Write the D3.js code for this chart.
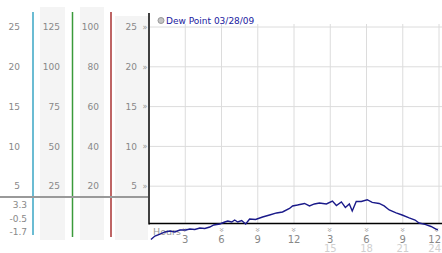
<!DOCTYPE html>
<html>
<head>
<meta charset="utf-8">
<script src="https://cdn.jsdelivr.net/npm/d3@7"></script>
<style>
body { margin: 0; background: #fff; }
svg text { font-family: "DejaVu Sans", Verdana, sans-serif; }
</style>
</head>
<body>
<script>
// dew point readings, hour of day -> degrees C
var hours = [0.16, 0.49, 0.91, 1.32, 1.73, 2.14, 2.56, 3.05, 3.38, 3.79, 4.21, 4.62, 5.03, 5.36, 5.86,
    6.27, 6.52, 6.85, 7.09, 7.34, 7.67, 8.0, 8.33, 8.82, 9.4, 9.98, 10.56, 11.05, 11.63, 11.88,
    12.29, 12.87, 13.28, 13.69, 14.1, 14.68, 15.18, 15.51, 15.92, 16.25, 16.58, 16.82, 17.15, 17.57,
    18.06, 18.47, 19.05, 19.46, 19.88, 20.45, 20.95, 21.53, 22.02, 22.35, 22.85, 23.34, 23.75, 23.9];
var dewPoint = [-1.7, -1.26, -1.01, -0.75, -0.63, -0.75, -0.5, -0.5, -0.38, -0.44, -0.25, -0.31, -0.13, 0.13, 0.25,
    0.5, 0.63, 0.5, 0.75, 0.5, 0.69, 0.25, 0.88, 0.82, 1.13, 1.38, 1.64, 1.76, 2.2, 2.52,
    2.64, 2.83, 2.52, 2.77, 2.89, 2.77, 3.14, 2.58, 3.02, 2.33, 2.77, 1.89, 3.08, 3.08,
    3.3, 2.96, 2.83, 2.52, 2.01, 1.64, 1.38, 1.01, 0.75, 0.38, 0.21, -0.06, -0.38, -0.5];

var gridValues = [25, 20, 15, 10, 5];
var col1Labels = ["25", "20", "15", "10", "5"];
var col2Labels = ["125", "100", "75", "50", "25"];
var col3Labels = ["100", "80", "60", "40", "20"];
var col4Labels = ["25", "20", "15", "10", "5"];
var statValues = [3.3, -0.5, -1.7];
var hourTicks = [3, 6, 9, 12, 15, 18, 21, 24];
var hourLabels = ["3", "6", "9", "12", "3", "6", "9", "12"];
var hourLabels2 = ["", "", "", "", "15", "18", "21", "24"];
var legendText = "Dew Point 03/28/09";

var width = 442, height = 253;
var svg = d3.select("body").append("svg")
    .attr("width", width)
    .attr("height", height);

var x = d3.scaleLinear().domain([0, 24]).range([149, 439]);
var y = d3.scaleLinear().domain([0, 25]).range([226, 27]);

// left panel: shaded columns
var shades = [[40, 65, 7], [80, 104, 7], [115, 148, 16]];
shades.forEach(function (s) {
    svg.append("rect")
        .attr("x", s[0]).attr("y", s[2])
        .attr("width", s[1] - s[0]).attr("height", 240 - s[2])
        .attr("fill", "#f4f4f4");
});

// coloured scale separators
[[33, "#3aa6c4", 235], [72.5, "#3a9a3a", 237], [111, "#a83232", 237]].forEach(function (l) {
    svg.append("line")
        .attr("x1", l[0]).attr("x2", l[0])
        .attr("y1", 12).attr("y2", l[2])
        .attr("stroke", l[1]).attr("stroke-width", 1.5);
});

function columnLabels(labels, xEnd) {
    svg.append("g").selectAll("text")
        .data(labels)
        .join("text")
        .attr("x", xEnd)
        .attr("y", (d, i) => y(gridValues[i]))
        .attr("dy", "0.35em")
        .attr("text-anchor", "end")
        .attr("font-size", 9)
        .attr("fill", "#888")
        .text(d => d);
}
columnLabels(col1Labels, 20);
columnLabels(col2Labels, 60);
columnLabels(col3Labels, 99);
columnLabels(col4Labels, 137);

// divider line in the left panel
svg.append("line")
    .attr("x1", 0).attr("x2", 148)
    .attr("y1", 197).attr("y2", 197)
    .attr("stroke", "#999").attr("stroke-width", 2);

// max / last / min readouts
svg.append("g").selectAll("text")
    .data(statValues)
    .join("text")
    .attr("x", 27)
    .attr("y", (d, i) => 205 + i * 13.5)
    .attr("dy", "0.35em")
    .attr("text-anchor", "end")
    .attr("font-size", 9)
    .attr("fill", "#888")
    .text(d => d);

// grid
var grid = svg.append("g").attr("stroke", "#dcdcdc").attr("stroke-width", 1);
grid.selectAll(".h")
    .data(gridValues)
    .join("line")
    .attr("x1", 150).attr("x2", width)
    .attr("y1", d => y(d)).attr("y2", d => y(d));
grid.selectAll(".v")
    .data(hourTicks)
    .join("line")
    .attr("x1", d => x(d)).attr("x2", d => x(d))
    .attr("y1", 24).attr("y2", 223);

// y tick markers
svg.append("g").selectAll("text")
    .data(gridValues)
    .join("text")
    .attr("x", 145)
    .attr("y", d => y(d))
    .attr("dy", "0.35em")
    .attr("text-anchor", "middle")
    .attr("font-size", 8)
    .attr("fill", "#999")
    .text("»");

// axes
var axisValue = 0.3;
svg.append("line")
    .attr("x1", 149).attr("x2", 149)
    .attr("y1", 13).attr("y2", y(axisValue) + 1)
    .attr("stroke", "#000").attr("stroke-width", 1.5);
svg.append("line")
    .attr("x1", 149).attr("x2", width)
    .attr("y1", y(axisValue)).attr("y2", y(axisValue))
    .attr("stroke", "#000").attr("stroke-width", 1.5);

// x ticks
var last = hourTicks.length - 1;
svg.append("g").selectAll("text")
    .data(hourTicks)
    .join("text")
    .attr("transform", d => "translate(" + Math.min(x(d), 437) + ",230) rotate(90)")
    .attr("dy", "0.35em")
    .attr("text-anchor", "middle")
    .attr("font-size", 8)
    .attr("fill", "#999")
    .text("»");
svg.append("g").selectAll("text")
    .data(hourLabels)
    .join("text")
    .attr("x", (d, i) => i === last ? 441 : x(hourTicks[i]))
    .attr("y", 239)
    .attr("dy", "0.35em")
    .attr("text-anchor", (d, i) => i === last ? "end" : "middle")
    .attr("font-size", 10)
    .attr("fill", "#888")
    .text(d => d);
svg.append("g").selectAll("text")
    .data(hourLabels2)
    .join("text")
    .attr("x", (d, i) => i === last ? 441 : x(hourTicks[i]))
    .attr("y", 248.5)
    .attr("dy", "0.35em")
    .attr("text-anchor", (d, i) => i === last ? "end" : "middle")
    .attr("font-size", 10)
    .attr("fill", "#d0d0d0")
    .text(d => d);

svg.append("text")
    .attr("x", 153).attr("y", 232)
    .attr("dy", "0.35em")
    .attr("font-size", 9.5)
    .attr("fill", "#999")
    .text("Hours");

// data line
var points = hours.map((h, i) => [h, dewPoint[i]]);
svg.append("path")
    .datum(points)
    .attr("fill", "none")
    .attr("stroke", "#1a1a8a")
    .attr("stroke-width", 1.4)
    .attr("d", d3.line().x(d => x(d[0])).y(d => y(d[1])));

// legend
svg.append("circle")
    .attr("cx", 161).attr("cy", 20.5).attr("r", 3)
    .attr("fill", "#c4c4c4").attr("stroke", "#999");
svg.append("text")
    .attr("x", 166).attr("y", 21)
    .attr("dy", "0.35em")
    .attr("font-size", 9)
    .attr("fill", "#1a1aa0")
    .text(legendText);
</script>
</body>
</html>
